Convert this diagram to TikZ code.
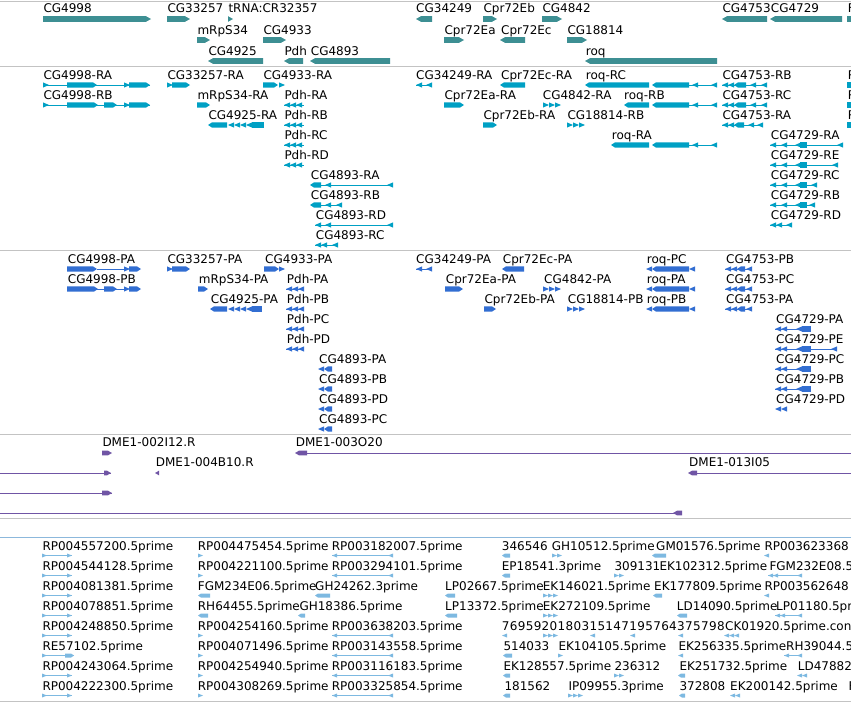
\documentclass[tikz,border=0pt]{standalone}
\usepackage{fontspec}
\setmainfont{DejaVu Sans}

\definecolor{genec}{RGB}{61,143,147}
\definecolor{txc}{RGB}{0,160,196}
\definecolor{prc}{RGB}{50,110,210}
\definecolor{dmec}{RGB}{112,85,165}
\definecolor{estc}{RGB}{125,185,225}
\definecolor{sepc}{RGB}{195,195,195}
\definecolor{estsep}{RGB}{140,184,220}

\tikzset{lbl/.style={anchor=base west, inner sep=0pt, font=\fontsize{12}{14}\selectfont}}

\def\hh{2.8}\def\cw{6}\def\tp{4}
\newcommand{\bR}[3]{\fill[cur] (#1,#3-\hh) -- (#2-\tp,#3-\hh) -- (#2,#3) -- (#2-\tp,#3+\hh) -- (#1,#3+\hh) -- cycle;}
\newcommand{\bL}[3]{\fill[cur] (#2,#3-\hh) -- (#1+\tp,#3-\hh) -- (#1,#3) -- (#1+\tp,#3+\hh) -- (#2,#3+\hh) -- cycle;}
\newcommand{\bX}[3]{\fill[cur] (#1,#3-\hh) rectangle (#2,#3+\hh);}
\newcommand{\cR}[2]{\fill[cur] (#1,#2-\hh) -- (#1+\cw,#2) -- (#1,#2+\hh) -- cycle;}
\newcommand{\cL}[2]{\fill[cur] (#1+\cw,#2-\hh) -- (#1,#2) -- (#1+\cw,#2+\hh) -- cycle;}
\newcommand{\cRs}[3]{\foreach \k in {1,...,#2} {\cR{#1+\k*\cw-\cw}{#3}}}
\newcommand{\cLs}[3]{\foreach \k in {1,...,#2} {\cL{#1+\k*\cw-\cw}{#3}}}
\newcommand{\tl}[3]{\draw[cur, line width=1pt] (#1,#3) -- (#2,#3);}

\begin{document}
\begin{tikzpicture}[x=1pt, y=-1pt]
    \fill[white] (0,0) rectangle (851,702);
    \useasboundingbox (0,0) rectangle (851,702);

    \draw[sepc, line width=1pt] (0,1) -- (851,1);
    \draw[sepc, line width=1pt] (0,66) -- (851,66);
    \draw[sepc, line width=1pt] (0,250) -- (851,250);
    \draw[sepc, line width=1pt] (0,434) -- (851,434);
    \draw[sepc, line width=1pt] (0,518) -- (851,518);
    \draw[estsep, line width=1pt] (0,537) -- (851,537);
    \draw[sepc, line width=1pt] (0,701) -- (851,701);

    % genes
    \colorlet{cur}{genec}
    \def\tp{5}
    \bR{43}{151}{19} \bR{167}{190}{19} \bR{228}{233}{19} \bL{416}{432}{19}
    \bR{483}{497}{19} \bR{542}{562}{19} \bL{722}{767}{19} \bL{770}{842}{19} \bX{847}{851}{19}
    \bR{197}{210}{40} \bR{263}{286}{40} \bR{444}{464}{40} \bL{500}{525}{40} \bR{567}{587}{40}
    \bL{208}{263}{61} \bL{284}{303}{61} \bL{310}{390}{61} \bL{585}{717}{61}
    \foreach \x/\y/\t [count=\i] in {43.3/12.3/CG4998, 167.3/12.3/CG33257, 228.3/12.3/tRNA:CR32357,
        416/12.3/CG34249, 483.3/12.3/Cpr72Eb, 542.3/12.3/CG4842, 722.3/12.3/CG4753, 770.7/12.3/CG4729,
        847.7/12.3/F, 197.3/34/mRpS34, 263.3/34/CG4933, 444.3/34/Cpr72Ea, 501/34/Cpr72Ec,
        567.3/34/CG18814, 208.3/55/CG4925, 284.3/55/Pdh, 310.7/55/CG4893, 585.7/55/roq}
        \node[lbl] (g\i) at (\x,\y) {\t};

    % transcripts
    \colorlet{cur}{txc}
    \def\hh{2.6}\def\tp{4}
    \foreach \y in {85,105} {
        \tl{43}{150}{\y} \cR{43}{\y} \cR{124}{\y} \bR{129}{150}{\y}
        \tl{722}{767}{\y} \cLs{722}{2}{\y} \bL{734}{746}{\y} \cL{750}{\y} \cL{761}{\y}
        \bX{847}{851}{\y}
    }
    \bR{67}{97}{85} \cR{167}{85} \bR{172}{190}{85} \bR{263}{278}{85} \cR{279}{85}
    \tl{416}{432}{85} \cL{416}{85} \cL{426}{85} \bL{500}{525}{85}
    \bR{67}{98}{105} \bR{104}{117}{105} \bR{197}{210}{105} \bR{444}{464}{105} \cRs{543}{3}{105}
    \foreach \y/\a in {85/585,105/624,145/611} {
        \bL{\a}{649}{\y} \bL{652}{689}{\y} \tl{689}{717}{\y} \cL{692}{\y} \cL{711}{\y}
    }
    \foreach \y in {105,125,145,165} {\tl{284}{304}{\y} \cLs{284}{3}{\y}}
    \bL{208}{227}{125} \cLs{228}{4}{125} \bX{252}{264}{125}
    \bR{483}{497}{125} \cRs{567}{3}{125}
    \tl{722}{763}{125} \cLs{722}{2}{125} \bL{734}{744}{125} \cL{748}{125} \cL{757}{125} \bX{847}{851}{125}
    \foreach \y/\e in {145/843,165/838,185/817,205/815} {
        \tl{770}{\e}{\y} \cL{770}{\y} \cL{781}{\y} \cL{795}{\y} \bX{800}{807}{\y} \cL{\e-6}{\y}
    }
    \tl{770}{792}{225} \cLs{770}{2}{225} \cL{786}{225}
    \bL{310}{321}{185} \tl{321}{393}{185} \cL{325}{185} \cL{387}{185}
    \bL{310}{321}{205} \tl{321}{342}{205} \cL{325}{205} \cL{336}{205}
    \tl{315}{393}{225} \cL{315}{225} \cL{325}{225} \cL{387}{225}
    \tl{315}{338}{245} \cLs{315}{2}{245} \cL{332}{245}
    \foreach \x/\y/\t [count=\i] in {43.3/79/CG4998-RA, 167.3/79/CG33257-RA, 263.3/79/CG4933-RA,
        416/79/CG34249-RA, 501/79/Cpr72Ec-RA, 585.7/79/roq-RC, 722.3/79/CG4753-RB, 847.7/79/R,
        43.3/99/CG4998-RB, 197.3/99/mRpS34-RA, 284.3/99/Pdh-RA, 444.3/99/Cpr72Ea-RA,
        542.7/99/CG4842-RA, 624/99/roq-RB, 722.3/99/CG4753-RC, 847.7/99/R,
        208.3/119/CG4925-RA, 284.3/119/Pdh-RB, 483.3/119/Cpr72Eb-RA, 567.3/119/CG18814-RB,
        722.3/119/CG4753-RA, 847.7/119/R,
        284.3/139/Pdh-RC, 611.7/139/roq-RA, 770.7/139/CG4729-RA,
        284.3/159/Pdh-RD, 770.7/159/CG4729-RE,
        310.7/179/CG4893-RA, 770.7/179/CG4729-RC,
        310.7/199/CG4893-RB, 770.7/199/CG4729-RB,
        315.7/219/CG4893-RD, 770.7/219/CG4729-RD,
        315.7/239/CG4893-RC}
        \node[lbl] (t\i) at (\x,\y) {\t};

    % proteins
    \colorlet{cur}{prc}
    \foreach \y in {269,289} {\tl{97}{124}{\y} \cR{124}{\y} \bR{129}{141}{\y}}
    \bR{67}{97}{269} \cR{167}{269} \bR{172}{190}{269} \bR{264}{279}{269} \cR{279}{269}
    \tl{416}{432}{269} \cL{416}{269} \cL{426}{269} \bL{502}{524}{269}
    \bR{67}{98}{289} \bR{104}{117}{289} \bR{198}{208}{289} \bR{445}{463}{289} \cRs{543}{3}{289}
    \foreach \y in {269,289,309} {
        \cL{646}{\y} \bL{652}{689}{\y} \cL{689}{\y}
        \tl{725}{752}{\y} \cLs{725}{2}{\y} \bL{737}{745}{\y} \cL{746}{\y}
    }
    \foreach \y in {289,309,329,349} {\tl{286}{304}{\y} \cLs{286}{3}{\y}}
    \bL{210}{227}{309} \cLs{228}{4}{309} \bX{252}{262}{309}
    \bR{484}{496}{309} \cRs{567}{3}{309}
    \foreach \y in {369,389,409,429} {\cL{318}{\y} \bL{324}{332}{\y}}
    \foreach \y/\e in {329/811,349/837,369/811,389/811} {
        \tl{775}{\e}{\y} \cLs{775}{2}{\y} \cL{796}{\y} \bX{802}{811}{\y}
    }
    \cL{831}{349} \cLs{775}{2}{409}
    \foreach \x/\y/\t [count=\i] in {67.7/263.3/CG4998-PA, 167.3/263.3/CG33257-PA, 265/263.3/CG4933-PA,
        416/263.3/CG34249-PA, 502.7/263.3/Cpr72Ec-PA, 646.7/263.3/roq-PC, 726/263.3/CG4753-PB,
        67.7/283.3/CG4998-PB, 198.7/283.3/mRpS34-PA, 286.7/283.3/Pdh-PA, 445.7/283.3/Cpr72Ea-PA,
        544/283.3/CG4842-PA, 646.7/283.3/roq-PA, 726/283.3/CG4753-PC,
        210.7/303.3/CG4925-PA, 286.7/303.3/Pdh-PB, 484.3/303.3/Cpr72Eb-PA, 567.7/303.3/CG18814-PB,
        646.7/303.3/roq-PB, 726/303.3/CG4753-PA,
        286.7/323.3/Pdh-PC, 776/323.3/CG4729-PA,
        286.7/343.3/Pdh-PD, 776/343.3/CG4729-PE,
        319/363.3/CG4893-PA, 776/363.3/CG4729-PC,
        319/383.3/CG4893-PB, 776/383.3/CG4729-PB,
        319/403.3/CG4893-PD, 776/403.3/CG4729-PD,
        319/423.3/CG4893-PC}
        \node[lbl] (p\i) at (\x,\y) {\t};

    % clones
    \colorlet{cur}{dmec}
    \def\hh{2.3}\def\cw{4}
    \bR{102}{112}{453} \bL{295}{307}{453} \tl{307}{851}{453}
    \tl{0}{111}{473} \bR{104}{111}{473} \cL{155}{473} \bL{688}{697}{473} \tl{697}{851}{473}
    \tl{0}{112}{493} \bR{102}{112}{493}
    \tl{0}{682}{513} \bL{673}{682}{513}
    \node[lbl] (d1) at (102.3,446.7) {DME1-002I12.R};
    \node[lbl] (d2) at (295.7,446.7) {DME1-003O20};
    \node[lbl] (d3) at (155.7,466.7) {DME1-004B10.R};
    \node[lbl] (d4) at (689,466.7) {DME1-013I05};

    % ests
    \colorlet{cur}{estc}
    \def\hh{2}\def\cw{5}\def\tp{3}
    \foreach \y in {555.5,575.5,595.5,615.5,635.5,675.5,695.5} {\tl{42}{72}{\y} \cR{42}{\y} \cR{67}{\y}}
    \tl{42}{74}{655.5} \cR{42}{655.5} \bR{65}{74}{655.5}
    \foreach \y in {555.5,575.5,635.5,655.5,675.5,695.5} {
        \cR{198}{\y} \tl{332}{393}{\y} \cL{332}{\y} \cL{388}{\y}
    }
    \bL{502}{510}{555.5} \cRs{552}{2}{555.5} \bL{652}{666}{555.5} \cL{764}{555.5}
    \bL{502}{510}{575.5} \cRs{614}{2}{575.5} \tl{768}{802}{575.5} \cLs{768}{2}{575.5} \cL{797}{575.5}
    \bL{198}{210}{595.5} \bL{315}{330}{595.5} \bL{445}{455}{595.5} \cRs{543}{3}{595.5}
    \bL{653}{662}{595.5} \cL{764}{595.5}
    \bL{198}{208}{615.5} \bL{298}{305}{615.5} \bL{445}{457}{615.5} \cRs{543}{3}{615.5}
    \bL{677}{687}{615.5} \tl{775}{802}{615.5} \cLs{775}{2}{615.5} \cL{797}{615.5}
    \cL{502}{635.5} \cRs{543}{3}{635.5} \cL{590}{635.5} \cL{630}{635.5} \cL{678}{635.5} \cLs{724}{3}{635.5}
    \bL{503}{512}{655.5} \cR{558}{655.5} \cL{678}{655.5} \tl{784}{802}{655.5} \cL{784}{655.5} \cL{797}{655.5}
    \bL{503}{510}{675.5} \cRs{614}{2}{675.5} \bL{678}{685}{675.5} \cLs{797}{2}{675.5}
    \bL{503}{510}{695.5} \cRs{568}{3}{695.5} \bL{679}{685}{695.5} \cLs{730}{2}{695.5}
    \foreach \x/\y/\t [count=\i] in {42.3/550.7/RP004557200.5prime, 197.7/550.7/RP004475454.5prime,
        331.7/550.7/RP003182007.5prime, 501.7/550.7/346546, 551.7/550.7/GH10512.5prime,
        656/550.7/GM01576.5prime, 764.3/550.7/RP003623368,
        42.3/570.7/RP004544128.5prime, 197.7/570.7/RP004221100.5prime, 331.7/570.7/RP003294101.5prime,
        501.7/570.7/EP18541.3prime, 614.3/570.7/309131, 659.3/570.7/EK102312.5prime, 769.3/570.7/FGM232E08.5,
        42.3/590.7/RP004081381.5prime, 197.7/590.7/FGM234E06.5prime, 315/590.7/GH24262.3prime,
        445/590.7/LP02667.5prime, 542.7/590.7/EK146021.5prime, 654/590.7/EK177809.5prime,
        764.3/590.7/RP003562648,
        42.3/610.7/RP004078851.5prime, 197.7/610.7/RH64455.5prime, 299.3/610.7/GH18386.5prime,
        445/610.7/LP13372.5prime, 542.7/610.7/EK272109.5prime, 676.7/610.7/LD14090.5prime,
        776/610.7/LP01180.5prime,
        42.3/630.7/RP004248850.5prime, 197.7/630.7/RP004254160.5prime, 331.7/630.7/RP003638203.5prime,
        725/630.7/CK01920.5prime.con,
        42.3/650.7/RE57102.5prime, 197.7/650.7/RP004071496.5prime, 331.7/650.7/RP003143558.5prime,
        503.3/650.7/514033, 558.3/650.7/EK104105.5prime, 678.3/650.7/EK256335.5prime, 786/650.7/RH39044.5,
        42.3/670.7/RP004243064.5prime, 197.7/670.7/RP004254940.5prime, 331.7/670.7/RP003116183.5prime,
        503.3/670.7/EK128557.5prime, 614.3/670.7/236312, 679.3/670.7/EK251732.5prime, 797.7/670.7/LD47882,
        42.3/690.7/RP004222300.5prime, 197.7/690.7/RP004308269.5prime, 331.7/690.7/RP003325854.5prime,
        504.3/690.7/181562, 568.3/690.7/IP09955.3prime, 679.3/690.7/372808, 730/690.7/EK200142.5prime,
        848.3/690.7/F}
        \node[lbl] (e\i) at (\x,\y) {\t};
    \node[lbl] (e0) at (501.7,630.7) {\addfontfeature{LetterSpace=2.8}7695920180315147195764375798};
\end{tikzpicture}
\end{document}
